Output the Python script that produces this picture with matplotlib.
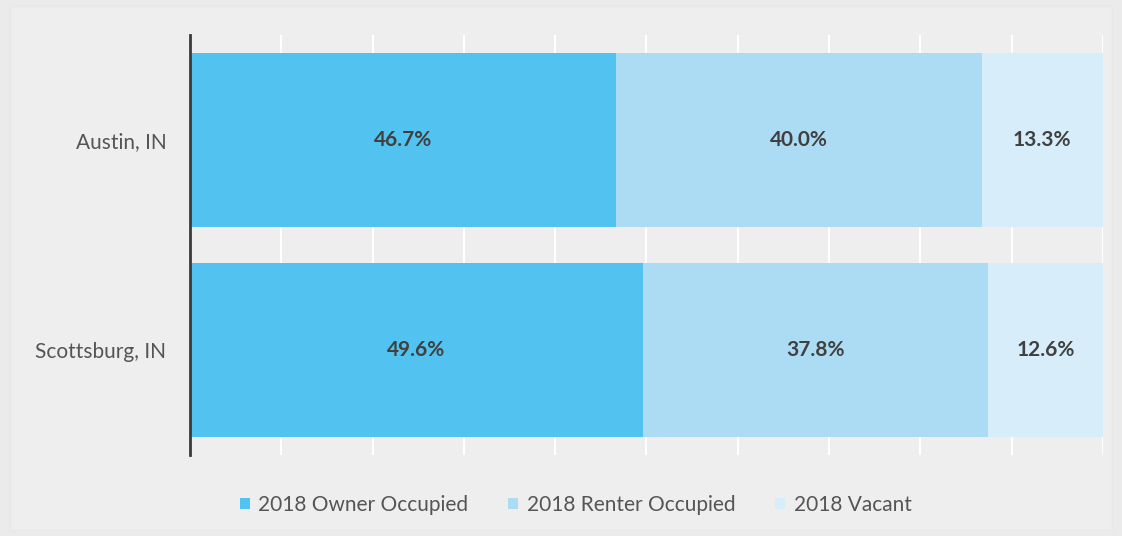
import matplotlib.pyplot as plt
from matplotlib.patches import Rectangle

plt.rcParams["font.family"] = ["Lato", "DejaVu Sans"]

places = ["Austin, IN", "Scottsburg, IN"]
series_names = ["2018 Owner Occupied", "2018 Renter Occupied", "2018 Vacant"]
owner = [46.7, 49.6]
renter = [40.0, 37.8]
vacant = [13.3, 12.6]

colors = ["#52c3f0", "#abdcf4", "#d7eefa"]
bg = "#ebebeb"


def main():
    fig = plt.figure(figsize=(11.22, 5.36), dpi=100, facecolor=bg)
    fig.patches.append(Rectangle((0.009, 0.012), 0.982, 0.976, transform=fig.transFigure,
                                 facecolor="#eeeeee", edgecolor="#e8e8e8", linewidth=1.0, zorder=-1))
    ax = fig.add_axes([0.1693, 0.1511, 0.8137, 0.7836])
    ax.set_facecolor("none")

    y = list(range(len(places)))
    left = [0.0] * len(places)
    for name, vals, color in zip(series_names, [owner, renter, vacant], colors):
        bars = ax.barh(y, vals, left=left, height=0.83, color=color, label=name, zorder=2)
        for b, v, l in zip(bars, vals, left):
            ax.text(l + v / 2, b.get_y() + b.get_height() / 2, f"{v:.1f}%",
                    ha="center", va="center", fontsize=15, fontweight="bold",
                    color="#404040", zorder=3)
        left = [a + b for a, b in zip(left, vals)]

    ax.set_xlim(0, 100)
    ax.set_ylim(1.5, -0.5)
    ax.set_xticks(range(0, 101, 10))
    ax.set_xticklabels([])
    ax.tick_params(axis="x", length=0)
    ax.tick_params(axis="y", length=0, pad=17, labelsize=15, labelcolor="#555555")
    ax.set_yticks(y)
    ax.set_yticklabels(places)
    ax.grid(axis="x", color="white", linewidth=1.5, zorder=0)
    ax.set_axisbelow(True)
    for side in ["top", "right", "bottom"]:
        ax.spines[side].set_visible(False)
    ax.spines["left"].set_color("#3a3a3a")
    ax.spines["left"].set_linewidth(2)

    fig.legend(loc="center", bbox_to_anchor=(0.513, 0.058), ncol=3, frameon=False,
               fontsize=15, labelcolor="#555555", handlelength=0.5, handleheight=0.5,
               handletextpad=0.4, columnspacing=1.9)

    fig.savefig("out.png", dpi=100, facecolor=bg)
    plt.close(fig)


if __name__ == "__main__":
    main()
